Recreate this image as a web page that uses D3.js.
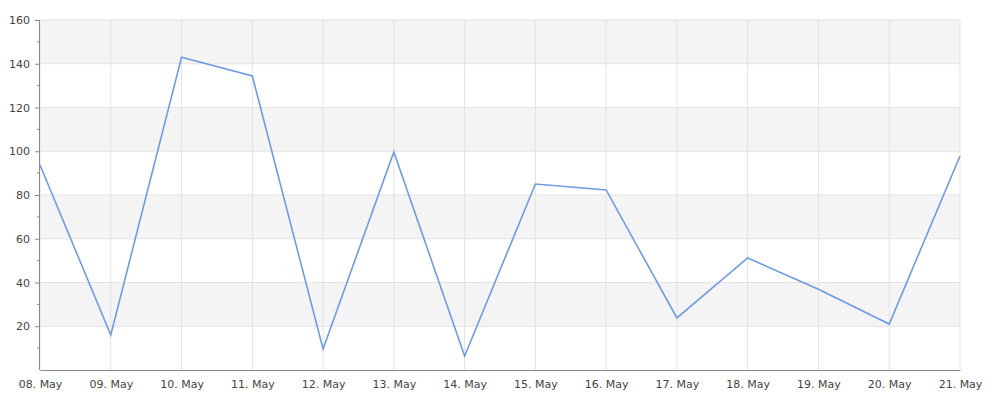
<!DOCTYPE html>
<html>
<head>
<meta charset="utf-8">
<script src="https://cdn.jsdelivr.net/npm/d3@7"></script>
<style>
  body { margin: 0; background: #fff; font-family: "DejaVu Sans", sans-serif; }
</style>
</head>
<body>
<div id="chart"></div>
<script>
const days = ["08. May", "09. May", "10. May", "11. May", "12. May", "13. May", "14. May",
              "15. May", "16. May", "17. May", "18. May", "19. May", "20. May", "21. May"];
const values = [93.7, 16, 143, 134.4, 9.6, 99.7, 6.4, 85, 82.3, 23.8, 51.2, 36.9, 21, 97.8];
const yTicks = [20, 40, 60, 80, 100, 120, 140, 160];
const yMinor = [10, 30, 50, 70, 90, 110, 130, 150];

const width = 1000, height = 400;
const margin = { top: 20, right: 40, bottom: 30, left: 40 };
const grW = width - margin.left - margin.right;
const grH = height - margin.top - margin.bottom;

const svg = d3.select("#chart").append("svg")
  .attr("width", width)
  .attr("height", height);

const g = svg.append("g")
  .attr("transform", `translate(${margin.left},${margin.top})`);

const x = d3.scalePoint().domain(days).range([0, grW]);
const y = d3.scaleLinear().domain([0, 160]).range([grH, 0]);

// alternating bands
const bands = [[20, 40], [60, 80], [100, 120], [140, 160]];
g.selectAll("rect.band")
  .data(bands)
  .enter().append("rect")
  .attr("class", "band")
  .attr("x", 0)
  .attr("width", grW)
  .attr("y", d => y(d[1]))
  .attr("height", d => y(d[0]) - y(d[1]))
  .attr("fill", "#f4f4f4");

// horizontal grid
g.selectAll("line.hgrid")
  .data(yTicks)
  .enter().append("line")
  .attr("x1", 0).attr("x2", grW)
  .attr("y1", d => y(d)).attr("y2", d => y(d))
  .attr("stroke", "#e3e3e3");

// vertical grid
g.selectAll("line.vgrid")
  .data(days)
  .enter().append("line")
  .attr("x1", d => x(d)).attr("x2", d => x(d))
  .attr("y1", 0).attr("y2", grH)
  .attr("stroke", "#e3e3e3");

// y axis
const yAxis = g.append("g")
  .call(d3.axisLeft(y).tickValues(yTicks).tickSize(5).tickPadding(5));
yAxis.select(".domain").attr("stroke", "#888").attr("d", `M-0.5,0V${grH}`);
yAxis.selectAll(".tick line").attr("stroke", "#888");
yAxis.selectAll("text").attr("fill", "#444").style("font-size", "11px")
  .style("font-family", "DejaVu Sans, sans-serif");

g.selectAll("line.minor")
  .data(yMinor)
  .enter().append("line")
  .attr("x1", -3).attr("x2", 0)
  .attr("y1", d => y(d)).attr("y2", d => y(d))
  .attr("stroke", "#888");

// x axis
const xAxis = g.append("g")
  .attr("transform", `translate(0,${grH})`)
  .call(d3.axisBottom(x).tickSize(0).tickPadding(10));
xAxis.select(".domain").attr("stroke", "#888");
xAxis.selectAll("text").attr("fill", "#444").style("font-size", "11px")
  .style("font-family", "DejaVu Sans, sans-serif");

// line
const line = d3.line()
  .x((d, i) => x(days[i]))
  .y(d => y(d));

g.append("path")
  .datum(values)
  .attr("d", line)
  .attr("fill", "none")
  .attr("stroke", "#6f9be3")
  .attr("stroke-width", 1.6);
</script>
</body>
</html>
